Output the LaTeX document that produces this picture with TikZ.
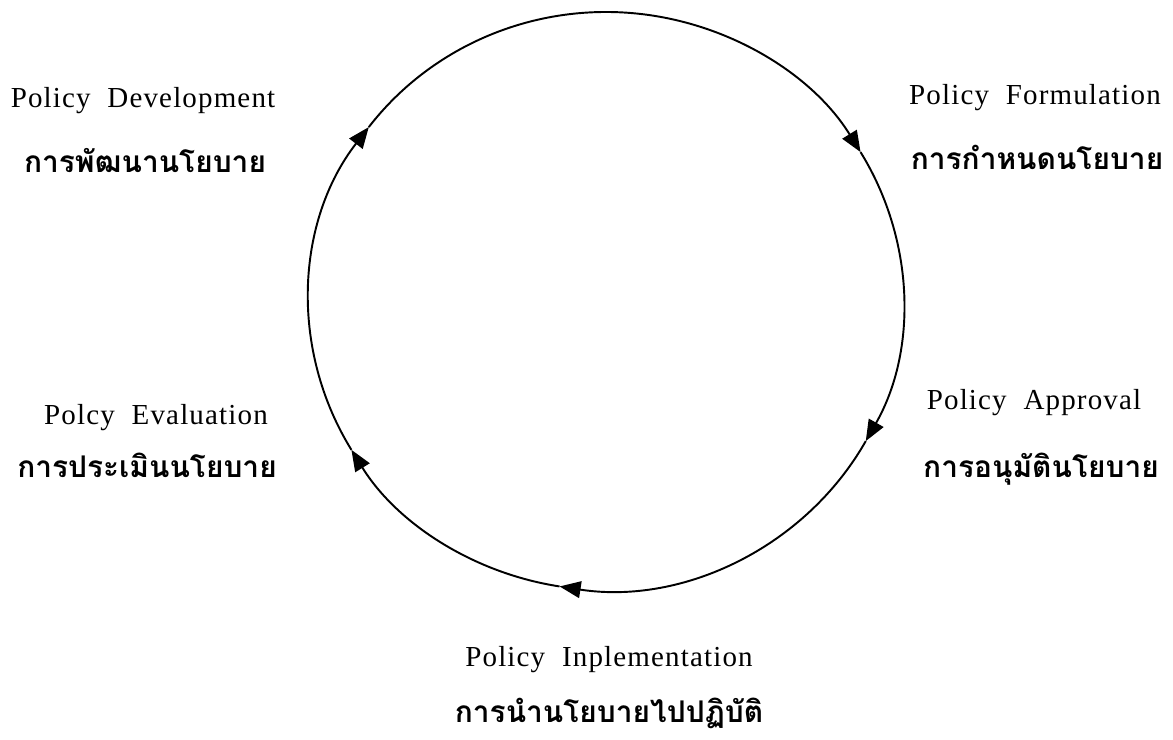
\documentclass[tikz,border=0pt]{standalone}
\usepackage{fontspec}
\setmainfont{Liberation Serif}
\newfontfamily\thaifont[Script=Thai]{Loma}
\usetikzlibrary{arrows.meta, calc}

\begin{document}
\begin{tikzpicture}[
    x=0.02cm, y=0.02cm,
    line width=1.1pt,
    stage/.style={anchor=base, inner sep=0pt, font=\fontsize{16.5}{18}\selectfont\addfontfeatures{LetterSpace=4}},
    thai/.style={anchor=base, inner sep=0pt, font=\thaifont\bfseries\fontsize{17}{19}\selectfont},
    cyc/.style={-{Triangle[length=12pt, width=9.5pt]}}
]
    \useasboundingbox (0,0) rectangle (1173,740);

    % Cycle
    \coordinate (c) at (606,439);
    \coordinate (pdev) at ($(c)+(143:297 and 289)$);
    \coordinate (pform) at ($(c)+(31:297 and 289)$);
    \coordinate (pappr) at ($(c)+(-29:297 and 289)$);
    \coordinate (pimpl) at ($(c)+(-99:297 and 289)$);
    \coordinate (peval) at ($(c)+(-149:297 and 289)$);

    \draw[cyc] (pdev) arc[start angle=143, end angle=31, x radius=297, y radius=289];
    \draw[cyc] (pform) arc[start angle=31, end angle=-29, x radius=297, y radius=289];
    \draw[cyc] (pappr) arc[start angle=-29, end angle=-99, x radius=297, y radius=289];
    \draw[cyc] (pimpl) arc[start angle=-99, end angle=-149, x radius=297, y radius=289];
    \draw[cyc] (peval) arc[start angle=-149, end angle=-217, x radius=297, y radius=289];

    % Labels
    \node[stage] (dev) at (143,632) {Policy\ \ Development};
    \node[thai] (devth) at (145,567) {การพัฒนานโยบาย};

    \node[stage] (form) at (1035,635) {Policy\ \ Formulation};
    \node[thai] (formth) at (1037,570) {การกำหนดนโยบาย};

    \node[stage] (appr) at (1034,330) {Policy\ \ Approval};
    \node[thai] (apprth) at (1041,262) {การอนุมัตินโยบาย};

    \node[stage] (impl) at (609,73) {Policy\ \ Inplementation};
    \node[thai] (implth) at (609,17) {การนำนโยบายไปปฏิบัติ};

    \node[stage] (eval) at (156,315) {Polcy\ \ Evaluation};
    \node[thai] (evalth) at (147,262) {การประเมินนโยบาย};
\end{tikzpicture}
\end{document}
